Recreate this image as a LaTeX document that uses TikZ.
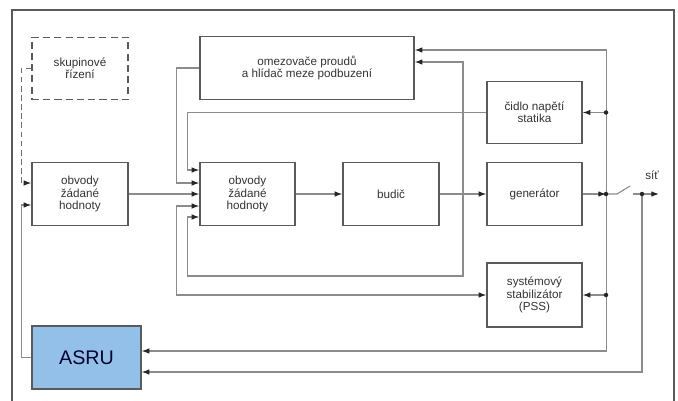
\documentclass[tikz,border=0pt]{standalone}
\usepackage{fontspec}
\setmainfont{Liberation Sans}
\usepackage{tikz}
\usetikzlibrary{arrows.meta,calc,positioning}
\definecolor{modra}{HTML}{92C0E8}
\definecolor{car}{HTML}{8C8C8C}
\definecolor{okraj}{HTML}{5A5A5A}
\definecolor{pismo}{HTML}{333333}

\begin{document}
\begin{tikzpicture}[
		x=0.025cm, y=-0.025cm,
		blok/.style={rectangle, draw=okraj, line width=0.9pt, inner sep=0pt, align=center,
			minimum width=2.4cm, minimum height=1.56cm, text=pismo,
			font=\fontsize{8.3}{8.9}\selectfont},
		spoj/.style={draw=car, line width=0.8pt},
		sip/.style={-{Latex[color=black!85,length=5.5pt,width=4pt]}},
		obe/.style={{Latex[color=black!85,length=5.5pt,width=4pt]}-{Latex[color=black!85,length=5.5pt,width=4pt]}},
		tecka/.style={circle, fill=black!85, inner sep=0pt, minimum size=3.2pt},
		]
		\useasboundingbox (0,0) rectangle (678,401);
		% ramecek
		\draw[okraj, line width=1.1pt] (12,401) -- (12,10) -- (674,10) -- (674,401);
		
		% bloky
		\node[blok, dashed, dash pattern=on 5pt off 3pt] (skup) at (80,68.5) {skupinové\\řízení};
		\node[blok, minimum width=5.35cm] (omez) at (307,68) {omezovače proudů\\a hlídač meze podbuzení};
		\node[blok, minimum width=2.375cm] (cidlo) at (534.5,112.5) {čidlo napětí\\statika};
		\node[blok] (obvL) at (80,194) {obvody\\žádané\\hodnoty};
		\node[blok, minimum width=2.375cm] (obvC) at (247.5,194) {obvody\\žádané\\hodnoty};
		\node[blok] (budic) at (391,194) {budič};
		\node[blok, minimum width=2.375cm] (gen) at (534.5,194) {generátor};
		\node[blok, minimum width=2.375cm, minimum height=1.6cm] (pss) at (534.5,295) {systémový\\stabilizátor\\(PSS)};
		\node[blok, fill=modra, minimum width=2.725cm, minimum height=1.575cm,
			text=black!80!blue, font=\fontsize{14}{16}\selectfont] (asru) at (86.5,357.5) {ASRU};
		
		% vstupy a pomocne body
		\coordinate (in1) at ($(obvC.west)+(0,-24)$);
		\coordinate (in2) at ($(obvC.west)+(0,-11)$);
		\coordinate (in4) at ($(obvC.west)+(0,12)$);
		\coordinate (in5) at ($(obvC.west)+(0,23)$);
		\coordinate (l1) at ($(obvL.west)+(0,-11)$);
		\coordinate (l2) at ($(obvL.west)+(0,11)$);
		\coordinate (om1) at ($(omez.east)+(0,-18)$);
		\coordinate (om2) at ($(omez.east)+(0,-6)$);
		\coordinate (as1) at ($(asru.east)+(0,-6.5)$);
		\coordinate (as2) at ($(asru.east)+(0,14.5)$);
		\coordinate (roh) at (463,276);
		\coordinate (uzelC) at (606,112.5);
		\coordinate (uzelG) at (606,194);
		\coordinate (uzelP) at (606,295);
		\coordinate (uzelS) at (642,194);
		\coordinate (sit) at (659,194);
		
		% hlavni cesta
		\draw[spoj, sip] (obvL.east) -- (obvC.west);
		\draw[spoj, sip] (obvC.east) -- (budic.west);
		\draw[spoj, sip] (budic.east) -- (gen.west);
		\draw[spoj, sip] (gen.east) -- (uzelG);
		
		% zpetne vazby do obvodu
		\draw[spoj, sip] (cidlo.west) -| ($(in1)+(-12,0)$) -- (in1);
		\draw[spoj, sip] (omez.west) -| ($(in2)+(-23,0)$) -- (in2);
		\draw[spoj, obe] (in4) -- ($(in4)+(-23,0)$) |- (pss.west);
		\draw[spoj, obe] (in5) -- ($(in5)+(-12,0)$) |- (roh) |- (om2);
		
		% sbernice od generatoru
		\draw[spoj, obe] (om1) -| ($(as1)+(465,0)$) -- (as1);
		\draw[spoj, sip] (uzelC) -- (cidlo.east);
		\draw[spoj, sip] (uzelP) -- (pss.east);
		\draw[spoj, sip] (uzelS) |- (as2);
		
		% vypinac a sit
		\draw[spoj] (uzelG) -- (617,194) -- (630,186);
		\draw[spoj, sip] (633,194) -- (sit);
		\node[text=pismo, font=\fontsize{8.3}{8.9}\selectfont] (sitT) at (652,175) {síť};
		
		% levy okraj
		\draw[spoj, sip] (asru.west) -| ($(l2)+(-10,0)$) -- (l2);
		\draw[spoj, draw=car!80!black, dashed, dash pattern=on 4pt off 2.5pt, sip] (skup.west) -| ($(l1)+(-10,0)$) -- (l1);
		
		% uzly
		\foreach \u in {uzelC, uzelG, uzelP, uzelS}
			\node[tecka] at (\u) {};
	\end{tikzpicture}
\end{document}
